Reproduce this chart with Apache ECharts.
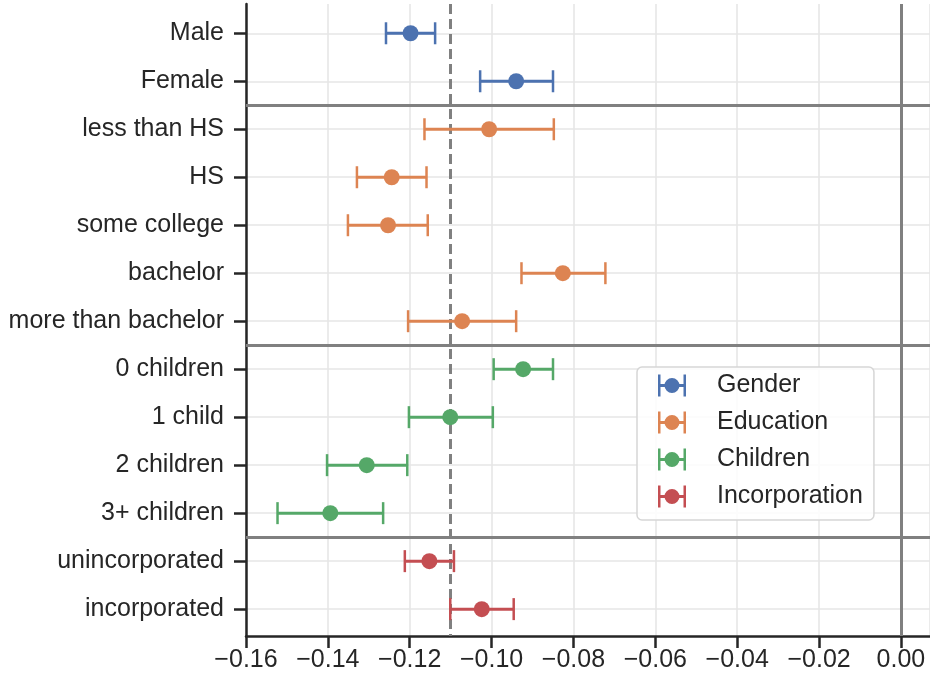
<!DOCTYPE html>
<html>
<head>
<meta charset="utf-8">
<script src="https://cdn.jsdelivr.net/npm/echarts@6/dist/echarts.min.js"></script>
<style>html,body{margin:0;padding:0;background:#fff}#c{width:930px;height:684px}</style>
</head>
<body>
<div id="c"></div>
<script>
// ---- data ----
const categories = ['Male','Female','less than HS','HS','some college','bachelor','more than bachelor',
  '0 children','1 child','2 children','3+ children','unincorporated','incorporated'];
const groupNames = ['Gender','Education','Children','Incorporation'];
const groupColors = ['#4c72b0','#dd8452','#55a868','#c44e52'];
// [category index, lower, upper, estimate]
const genderData = [[0,-0.1258,-0.1138,-0.1198],[1,-0.1028,-0.0850,-0.0940]];
const educationData = [[2,-0.1164,-0.0848,-0.1006],[3,-0.1329,-0.1159,-0.1244],[4,-0.1351,-0.1156,-0.1253],
  [5,-0.0927,-0.0722,-0.0826],[6,-0.1204,-0.0940,-0.1072]];
const childrenData = [[7,-0.0995,-0.0850,-0.0923],[8,-0.1202,-0.0997,-0.1101],[9,-0.1402,-0.1206,-0.1305],
  [10,-0.1523,-0.1265,-0.1394]];
const incorporationData = [[11,-0.1212,-0.1092,-0.1152],[12,-0.1101,-0.0946,-0.1024]];
const referenceValue = -0.111;
const zeroValue = 0;
const groupSeparators = [1.5, 6.5, 10.5];

const allData = [genderData, educationData, childrenData, incorporationData];
const catIdx = categories.map((_, i) => i);
const textColor = '#262626';
const font = '"Liberation Sans", Arial, sans-serif';
const fs = 25;

function renderErr(params, api) {
  const y = api.value(0), lo = api.value(1), hi = api.value(2), m = api.value(3);
  const pL = api.coord([lo, y]), pH = api.coord([hi, y]), pM = api.coord([m, y]);
  const c = api.visual('color');
  const capH = 11;
  return {type: 'group', children: [
    {type: 'line', shape: {x1: pL[0], y1: pL[1], x2: pH[0], y2: pH[1]}, style: {stroke: c, lineWidth: 3, fill: null}},
    {type: 'line', shape: {x1: pL[0], y1: pL[1]-capH, x2: pL[0], y2: pL[1]+capH}, style: {stroke: c, lineWidth: 2.5}},
    {type: 'line', shape: {x1: pH[0], y1: pH[1]-capH, x2: pH[0], y2: pH[1]+capH}, style: {stroke: c, lineWidth: 2.5}},
    {type: 'circle', shape: {cx: pM[0], cy: pM[1], r: 8}, style: {fill: c}}
  ]};
}

const icon = 'path://M0,0 L2.5,0 L2.5,22 L0,22 Z M25.5,0 L28,0 L28,22 L25.5,22 Z M0,9.5 L28,9.5 L28,12.5 L0,12.5 Z M6.5,11 A7.5,7.5 0 1,1 21.5,11 A7.5,7.5 0 1,1 6.5,11 Z';

const series = groupNames.map((name, g) => ({
  name: name, type: 'custom', renderItem: renderErr, z: 5,
  itemStyle: {color: groupColors[g]},
  encode: {x: [1,2,3], y: 0},
  data: allData[g]
}));

series.push({
  name: 'refs', type: 'line', data: [], z: 2, silent: true,
  markLine: {
    silent: true, symbol: ['none','none'], label: {show: false},
    animation: false,
    data: [
      {xAxis: zeroValue, lineStyle: {color: '#808080', width: 3, type: 'solid'}},
      {xAxis: referenceValue, lineStyle: {color: '#808080', width: 3, type: [10,5]}},
      ...groupSeparators.map(v => ({yAxis: v, lineStyle: {color: '#808080', width: 3, type: 'solid'}}))
    ]
  }
});

const chart = echarts.init(document.getElementById('c'), null, {renderer: 'canvas'});
chart.setOption({
  animation: false,
  backgroundColor: '#fff',
  grid: {left: 246, right: 0, top: 4, bottom: 48, containLabel: false},
  xAxis: {
    type: 'value', min: -0.16, max: 0.0071, interval: 0.02,
    axisLine: {show: true, onZero: false, lineStyle: {color: textColor, width: 2.5}},
    axisTick: {show: true, length: 12, lineStyle: {color: textColor, width: 2.5}},
    axisLabel: {color: textColor, fontSize: fs, fontFamily: font, margin: 12, showMaxLabel: false,
      formatter: v => Math.abs(v) < 1e-9 ? '0.00' : (v < 0 ? '\u2212' + Math.abs(v).toFixed(2) : v.toFixed(2))},
    splitLine: {show: true, lineStyle: {color: '#e6e6e6', width: 1.6}}
  },
  yAxis: {
    type: 'value', inverse: true, min: -0.61, max: 12.56,
    axisLine: {show: true, onZero: false, lineStyle: {color: textColor, width: 2.5}},
    axisTick: {show: true, length: 12, customValues: catIdx, lineStyle: {color: textColor, width: 2.5}},
    axisLabel: {color: textColor, fontSize: fs, fontFamily: font, margin: 22, customValues: catIdx,
      formatter: v => categories[Math.round(v)]},
    splitLine: {show: true, lineStyle: {color: '#e6e6e6', width: 1.6}}
  },
  legend: {
    data: groupNames.map(n => ({name: n, icon: icon})),
    orient: 'vertical', left: 637, top: 367,
    itemWidth: 28, itemHeight: 22, itemGap: 12,
    padding: [6, 11, 11, 21],
    backgroundColor: 'rgba(255,255,255,0.85)',
    borderColor: '#d6d6d6', borderWidth: 1.5, borderRadius: 5,
    textStyle: {color: textColor, fontSize: fs, fontFamily: font, lineHeight: 24, padding: [0,0,0,26]}
  },
  series: series
});
</script>
</body>
</html>
